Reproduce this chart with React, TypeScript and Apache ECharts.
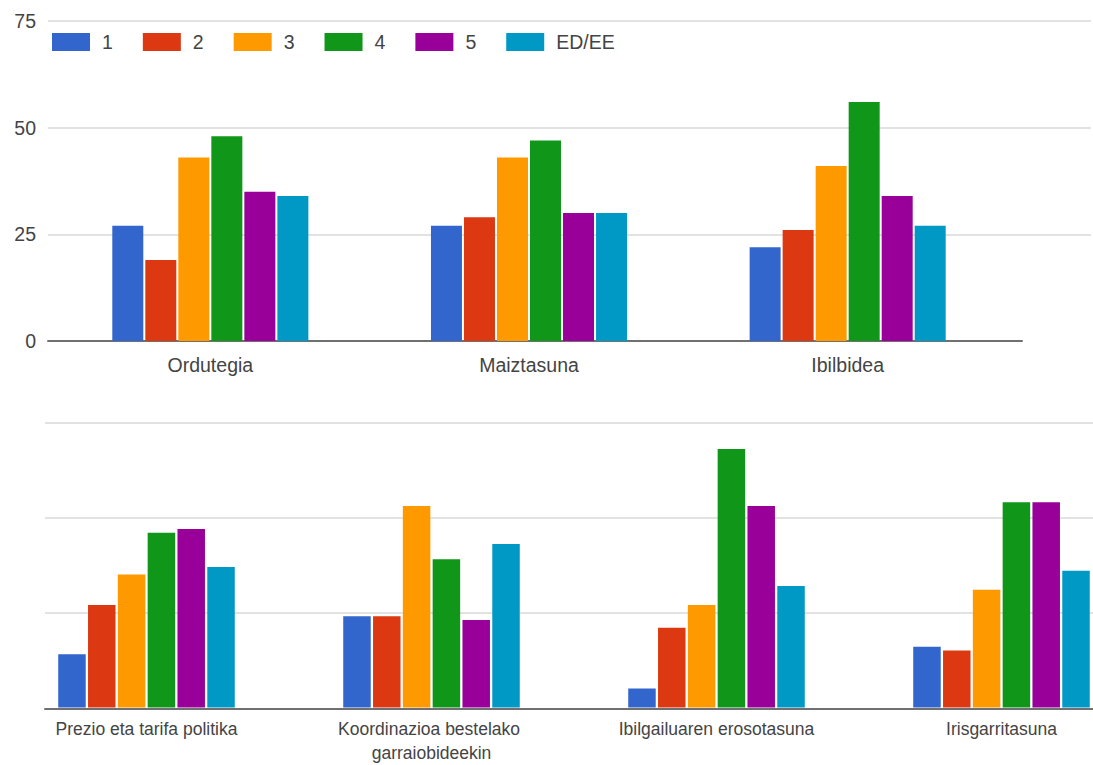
import React, { useEffect, useRef } from "react";
import * as echarts from "echarts";

const seriesNames = ["1", "2", "3", "4", "5", "ED/EE"];
const seriesColors = ["#3366cc", "#dc3912", "#ff9900", "#109618", "#990099", "#0099c6"];

const topCategories = ["Ordutegia", "Maiztasuna", "Ibilbidea"];
const top1 = [27, 27, 22];
const top2 = [19, 29, 26];
const top3 = [43, 43, 41];
const top4 = [48, 47, 56];
const top5 = [35, 30, 34];
const topED = [34, 30, 27];

const bottomCategories = [
  "Prezio eta tarifa politika",
  "Koordinazioa bestelako garraiobideekin",
  "Ibilgailuaren erosotasuna",
  "Irisgarritasuna",
];
const bottom1 = [14, 24, 5, 16];
const bottom2 = [27, 24, 21, 15];
const bottom3 = [35, 53, 27, 31];
const bottom4 = [46, 39, 68, 54];
const bottom5 = [47, 23, 53, 54];
const bottomED = [37, 43, 32, 36];

const yTicks = [0, 25, 50, 75];

const FONT = '"Liberation Sans", Arial, sans-serif';
const TEXT = "#444444";
const GRID_COLOR = "#d9d9d9";
const AXIS_COLOR = "#707070";

// The chart canvas is wider than the visible picture: the bottom panel's last band is cut off.
const VIEW_W = 1093;
const VIEW_H = 765;
const CANVAS_W = 1150;

export default function App() {
  const ref = useRef<HTMLDivElement>(null);

  useEffect(() => {
    if (!ref.current) return;
    const chart = echarts.init(ref.current, null, { renderer: "svg" });
    const topSets = [top1, top2, top3, top4, top5, topED];
    const bottomSets = [bottom1, bottom2, bottom3, bottom4, bottom5, bottomED];
    const yMin = yTicks[0];
    const yMax = yTicks[yTicks.length - 1];
    const yStep = yTicks[1] - yTicks[0];
    const gridLineColors = yTicks.map((_, i) => (i === 0 ? "rgba(0,0,0,0)" : GRID_COLOR));

    const hiddenValueX = (gridIndex: number, showLine: boolean) => ({
      type: "value",
      gridIndex,
      min: 0,
      max: 1,
      axisLabel: { show: false },
      axisTick: { show: false },
      splitLine: { show: false },
      axisLine: { show: showLine, onZero: false, lineStyle: { color: AXIS_COLOR, width: 2 } },
    });
    const valueY = (gridIndex: number, opts: any) => ({
      type: "value",
      gridIndex,
      min: yMin,
      max: yMax,
      interval: yStep,
      axisLine: { show: false },
      axisTick: { show: false },
      axisLabel: { show: false },
      splitLine: { show: false },
      ...opts,
    });

    const option: any = {
      animation: false,
      backgroundColor: "#ffffff",
      color: seriesColors,
      textStyle: { fontFamily: FONT },
      legend: {
        data: seriesNames,
        left: 52,
        top: 32,
        padding: 0,
        icon: "rect",
        itemWidth: 38,
        itemHeight: 18,
        itemGap: 30,
        textStyle: { fontSize: 19.5, color: TEXT, fontFamily: FONT, padding: [0, 0, 0, 7], lineHeight: 20 },
      },
      grid: [
        // top bars
        { left: 51, width: 956, top: 21, height: 320 },
        // top gridlines
        { left: 48, width: 1043, top: 21, height: 320 },
        // top baseline
        { left: 48, width: 974, top: 21, height: 320 },
        // bottom bars (the rightmost band runs past the picture edge)
        { left: 4, width: 1140, top: 422.5, height: 286 },
        // bottom gridlines + baseline
        { left: 45, width: VIEW_W - 45, top: 422.5, height: 286 },
      ],
      xAxis: [
        {
          type: "category",
          gridIndex: 0,
          data: topCategories,
          axisLine: { show: false },
          axisTick: { show: false },
          axisLabel: { interval: 0, fontSize: 19.5, color: TEXT, margin: 13, lineHeight: 22, fontFamily: FONT },
        },
        hiddenValueX(1, false),
        hiddenValueX(2, true),
        {
          type: "category",
          gridIndex: 3,
          data: bottomCategories,
          axisLine: { show: false },
          axisTick: { show: false },
          axisLabel: {
            interval: 0,
            fontSize: 17.5,
            color: TEXT,
            margin: 9.5,
            lineHeight: 24,
            width: 220,
            overflow: "break",
            fontFamily: FONT,
          },
        },
        hiddenValueX(4, true),
      ],
      yAxis: [
        valueY(0, {
          axisLabel: { show: true, fontSize: 19.5, color: TEXT, margin: 15, fontFamily: FONT },
        }),
        valueY(1, {
          splitLine: { show: true, lineStyle: { color: gridLineColors, width: 1.5 } },
        }),
        valueY(2, {}),
        valueY(3, {}),
        valueY(4, {
          splitLine: { show: true, lineStyle: { color: gridLineColors, width: 1.5 } },
        }),
      ],
      series: [
        ...seriesNames.map((name, i) => ({
          name,
          type: "bar",
          xAxisIndex: 0,
          yAxisIndex: 0,
          data: topSets[i],
          barWidth: 31,
          barGap: "6.5%",
          itemStyle: { color: seriesColors[i] },
        })),
        ...seriesNames.map((name, i) => ({
          name,
          type: "bar",
          xAxisIndex: 3,
          yAxisIndex: 3,
          data: bottomSets[i],
          barWidth: 27.5,
          barGap: "8.4%",
          itemStyle: { color: seriesColors[i] },
        })),
      ],
    };
    chart.setOption(option);
    return () => chart.dispose();
  }, []);

  return (
    <div
      style={{
        position: "absolute",
        left: 0,
        top: 0,
        width: VIEW_W,
        height: VIEW_H,
        overflow: "hidden",
        background: "#fff",
      }}
    >
      <div ref={ref} style={{ width: CANVAS_W, height: VIEW_H }} />
    </div>
  );
}
